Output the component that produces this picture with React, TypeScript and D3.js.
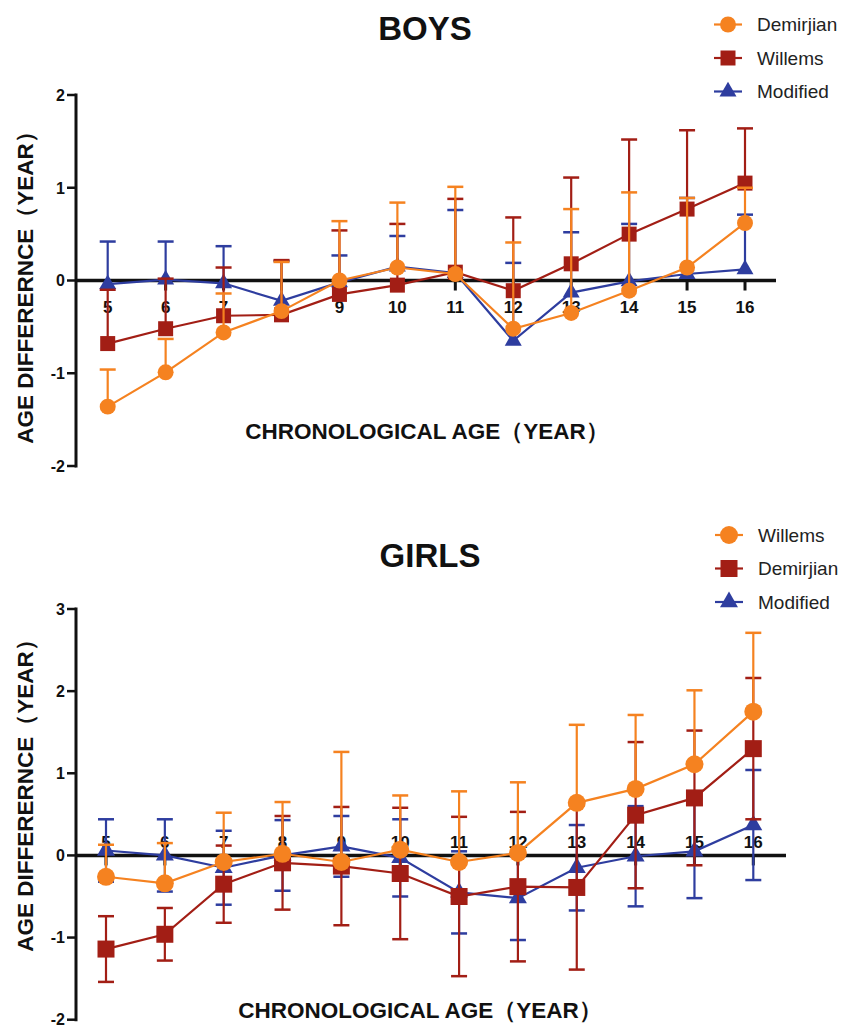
import React, { useEffect, useRef } from "react";
import * as d3 from "d3";

// chronological age groups
const ages = [5, 6, 7, 8, 9, 10, 11, 12, 13, 14, 15, 16];
const boysYTicks = [-2, -1, 0, 1, 2];
const girlsYTicks = [-2, -1, 0, 1, 2, 3];

// boys: mean difference and SD (bars drawn upward only)
const boysDemirjian = [-1.36, -0.99, -0.56, -0.33, 0.0, 0.14, 0.07, -0.52, -0.35, -0.11, 0.14, 0.62];
const boysDemirjianSD = [0.4, 0.36, 0.42, 0.53, 0.64, 0.7, 0.94, 0.93, 1.12, 1.06, 0.75, 0.38];
const boysWillems = [-0.68, -0.52, -0.38, -0.37, -0.15, -0.05, 0.09, -0.11, 0.18, 0.5, 0.77, 1.05];
const boysWillemsSD = [0.58, 0.54, 0.52, 0.59, 0.69, 0.66, 0.79, 0.79, 0.93, 1.02, 0.85, 0.59];
const boysModified = [-0.04, 0.01, -0.03, -0.22, -0.02, 0.15, 0.08, -0.65, -0.13, -0.01, 0.07, 0.12];
const boysModifiedSD = [0.46, 0.41, 0.4, 0.43, 0.29, 0.33, 0.68, 0.84, 0.65, 0.62, 0.82, 0.59];

// girls
const girlsWillems = [-0.26, -0.34, -0.08, 0.02, -0.08, 0.07, -0.08, 0.03, 0.64, 0.81, 1.11, 1.75];
const girlsWillemsSD = [0.39, 0.49, 0.6, 0.63, 1.34, 0.66, 0.86, 0.86, 0.95, 0.9, 0.9, 0.96];
const girlsDemirjian = [-1.14, -0.96, -0.35, -0.09, -0.13, -0.22, -0.5, -0.38, -0.39, 0.49, 0.7, 1.3];
const girlsDemirjianSD = [0.4, 0.32, 0.47, 0.57, 0.72, 0.8, 0.97, 0.91, 1.0, 0.89, 0.82, 0.86];
const girlsModified = [0.06, 0.0, -0.15, 0.0, 0.11, -0.03, -0.45, -0.52, -0.15, -0.01, 0.05, 0.37];
const girlsModifiedSD = [0.38, 0.44, 0.45, 0.43, 0.37, 0.47, 0.5, 0.51, 0.52, 0.61, 0.57, 0.67];

const ORANGE = "#F58220";
const RED = "#A21E15";
const BLUE = "#2E3D9F";
const FONT = "'Liberation Sans', Arial, Helvetica, sans-serif";

function App() {
  const ref = useRef<SVGSVGElement>(null);

  useEffect(() => {
    document.body.style.margin = "0";
    const svg = d3.select(ref.current);
    svg.selectAll("*").remove();

    const drawPanel = (p: any) => {
      const g = svg.append("g");
      const x = d3.scaleLinear().domain([5, 16]).range(p.xRange);
      const y = d3.scaleLinear().domain(p.yDomain).range(p.yRange);
      const axisX = 76;
      const zeroY = y(0);

      // title
      g.append("text")
        .attr("x", p.titleX)
        .attr("y", p.titleY)
        .attr("text-anchor", "middle")
        .attr("font-family", FONT)
        .attr("font-weight", "bold")
        .attr("font-size", 33)
        .attr("fill", "#111")
        .text(p.title);

      // y axis
      g.append("line")
        .attr("x1", axisX).attr("x2", axisX)
        .attr("y1", y(p.yDomain[0]) + 1.5).attr("y2", y(p.yDomain[1]) - 1.5)
        .attr("stroke", "#111").attr("stroke-width", 3);
      p.yTicks.forEach((t: number) => {
        g.append("line")
          .attr("x1", axisX - 9).attr("x2", axisX)
          .attr("y1", y(t)).attr("y2", y(t))
          .attr("stroke", "#111").attr("stroke-width", 2.5);
        g.append("text")
          .attr("x", axisX - 11)
          .attr("y", y(t))
          .attr("dy", "0.36em")
          .attr("text-anchor", "end")
          .attr("font-family", FONT)
          .attr("font-weight", "bold")
          .attr("font-size", 16)
          .attr("fill", "#111")
          .text(t);
      });

      // zero line with x ticks
      g.append("line")
        .attr("x1", axisX).attr("x2", p.zeroEnd)
        .attr("y1", zeroY).attr("y2", zeroY)
        .attr("stroke", "#111").attr("stroke-width", 3.5);
      ages.forEach((a) => {
        g.append("line")
          .attr("x1", x(a)).attr("x2", x(a))
          .attr("y1", zeroY).attr("y2", zeroY + 10)
          .attr("stroke", "#111").attr("stroke-width", 3);
        g.append("text")
          .attr("x", x(a))
          .attr("y", zeroY + p.labelOffset)
          .attr("dy", "0.36em")
          .attr("text-anchor", "middle")
          .attr("font-family", FONT)
          .attr("font-weight", "bold")
          .attr("font-size", 17)
          .attr("fill", "#111")
          .text(a);
      });

      // axis titles
      g.append("text")
        .attr("transform", `translate(${p.yTitleX},${p.yTitleY}) rotate(-90)`)
        .attr("text-anchor", "middle")
        .attr("dy", "0.36em")
        .attr("font-family", FONT)
        .attr("font-weight", "bold")
        .attr("font-size", 22.5)
        .attr("fill", "#111")
        .text("AGE DIFFERERNCE（YEAR）");
      g.append("text")
        .attr("x", p.xTitleX)
        .attr("y", p.xTitleY)
        .attr("dy", "0.36em")
        .attr("text-anchor", "middle")
        .attr("font-family", FONT)
        .attr("font-weight", "bold")
        .attr("font-size", 22.5)
        .attr("fill", "#111")
        .text("CHRONOLOGICAL AGE（YEAR）");

      // series, drawn bottom to top
      const order = [...p.series].reverse();
      order.forEach((s: any) => {
        const sym = d3.symbol().type(s.shape).size(s.size);
        const bars = g.append("g");
        s.mean.forEach((m: number, i: number) => {
          const cx = x(ages[i]);
          const top = m + s.sd[i];
          const bottom = s.both ? m - s.sd[i] : m;
          bars.append("line")
            .attr("x1", cx).attr("x2", cx)
            .attr("y1", y(bottom)).attr("y2", y(top))
            .attr("stroke", s.color).attr("stroke-width", 2.2);
          const caps = s.both ? [top, bottom] : [top];
          caps.forEach((c) => {
            bars.append("line")
              .attr("x1", cx - 8).attr("x2", cx + 8)
              .attr("y1", y(c)).attr("y2", y(c))
              .attr("stroke", s.color).attr("stroke-width", 2.5);
          });
        });
        g.append("path")
          .datum(s.mean)
          .attr("d", d3.line<number>().x((d, i) => x(ages[i])).y((d) => y(d)))
          .attr("fill", "none")
          .attr("stroke", s.color)
          .attr("stroke-width", 2.2);
        g.selectAll(null)
          .data(s.mean)
          .enter()
          .append("path")
          .attr("d", sym as any)
          .attr("transform", (d: any, i: number) => `translate(${x(ages[i])},${y(d)})`)
          .attr("fill", s.color);
      });

      // legend
      p.series.forEach((s: any, i: number) => {
        const ly = p.legendY + i * 33.5;
        const sym = d3.symbol().type(s.shape).size(s.size);
        g.append("line")
          .attr("x1", p.legendX - 14).attr("x2", p.legendX + 14)
          .attr("y1", ly).attr("y2", ly)
          .attr("stroke", s.color).attr("stroke-width", 2.2);
        g.append("path")
          .attr("d", sym() as any)
          .attr("transform", `translate(${p.legendX},${ly})`)
          .attr("fill", s.color);
        g.append("text")
          .attr("x", p.legendX + 29)
          .attr("y", ly)
          .attr("dy", "0.36em")
          .attr("font-family", FONT)
          .attr("font-size", 19)
          .attr("fill", "#222")
          .text(s.name);
      });
    };

    drawPanel({
      title: "BOYS",
      titleX: 425,
      titleY: 40,
      xRange: [107.7, 745],
      yDomain: [-2, 2],
      yRange: [466, 95],
      yTicks: boysYTicks,
      zeroEnd: 776,
      labelOffset: 26,
      yTitleX: 25,
      yTitleY: 282,
      xTitleX: 427,
      xTitleY: 431,
      legendX: 728,
      legendY: 24.5,
      series: [
        { name: "Demirjian", color: ORANGE, shape: d3.symbolCircle, size: 200, mean: boysDemirjian, sd: boysDemirjianSD, both: false },
        { name: "Willems", color: RED, shape: d3.symbolSquare, size: 225, mean: boysWillems, sd: boysWillemsSD, both: false },
        { name: "Modified", color: BLUE, shape: d3.symbolTriangle, size: 125, mean: boysModified, sd: boysModifiedSD, both: false },
      ],
    });

    drawPanel({
      title: "GIRLS",
      titleX: 430,
      titleY: 567,
      xRange: [106, 753.3],
      yDomain: [-2, 3],
      yRange: [1019.7, 609],
      yTicks: girlsYTicks,
      zeroEnd: 786,
      labelOffset: -14,
      yTitleX: 25,
      yTitleY: 790,
      xTitleX: 420,
      xTitleY: 1010,
      legendX: 729,
      legendY: 535,
      series: [
        { name: "Willems", color: ORANGE, shape: d3.symbolCircle, size: 254, mean: girlsWillems, sd: girlsWillemsSD, both: false },
        { name: "Demirjian", color: RED, shape: d3.symbolSquare, size: 289, mean: girlsDemirjian, sd: girlsDemirjianSD, both: true },
        { name: "Modified", color: BLUE, shape: d3.symbolTriangle, size: 140, mean: girlsModified, sd: girlsModifiedSD, both: true },
      ],
    });
  }, []);

  return <svg ref={ref} width={845} height={1026} style={{ display: "block", background: "#fff" }} />;
}

export default App;
